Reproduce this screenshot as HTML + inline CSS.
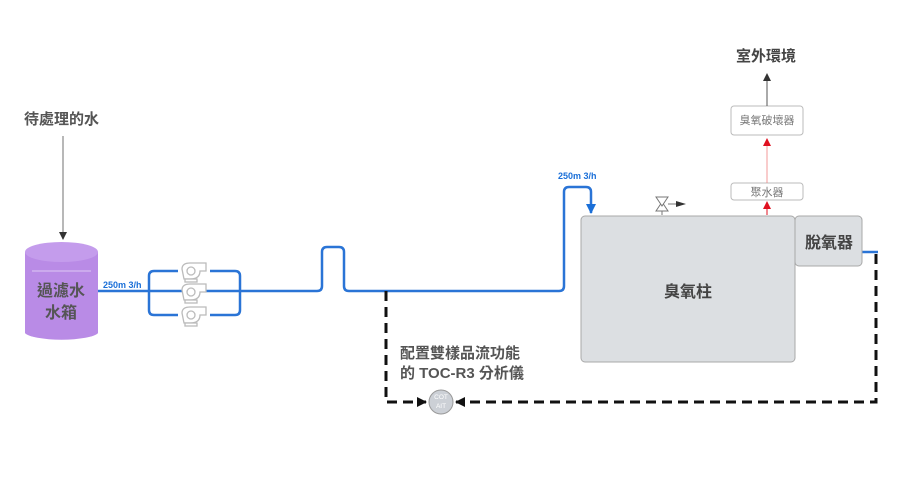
<!DOCTYPE html>
<html><head><meta charset="utf-8"><style>
html,body{margin:0;padding:0;background:#fff;}
svg{display:block;}
text{font-family:"Liberation Sans","Noto Sans CJK TC",sans-serif;}
</style></head><body>
<svg width="900" height="478" viewBox="0 0 900 478" xmlns="http://www.w3.org/2000/svg">
<defs>
<marker id="ab" markerWidth="8" markerHeight="8" refX="7" refY="4" orient="auto" markerUnits="userSpaceOnUse"><path d="M0,0 L8,4 L0,8 z" fill="#333"/></marker>
<marker id="ar" markerWidth="8" markerHeight="8" refX="7" refY="4" orient="auto" markerUnits="userSpaceOnUse"><path d="M0,0 L8,4 L0,8 z" fill="#e01020"/></marker>
<marker id="abl" markerWidth="10" markerHeight="10" refX="9" refY="5" orient="auto" markerUnits="userSpaceOnUse"><path d="M0,0 L10,5 L0,10 z" fill="#1a6fd8"/></marker>
<marker id="ak" markerWidth="10" markerHeight="10" refX="9" refY="5" orient="auto" markerUnits="userSpaceOnUse"><path d="M0,0 L10,5 L0,10 z" fill="#111"/></marker>
</defs>

<text x="24" y="124" font-size="15" font-weight="bold" fill="#555">待處理的水</text>
<line x1="63" y1="136" x2="63" y2="239" stroke="#888" stroke-width="1.2" marker-end="url(#ab)"/>

<path d="M25,252 L25,333 A37,8 0 0 0 98,333 L98,252 Z" fill="#b98be6"/>
<ellipse cx="61.5" cy="252" rx="36.5" ry="10" fill="#c49cec"/>
<line x1="32" y1="271" x2="91" y2="271" stroke="#ddc8f4" stroke-width="1"/>
<text x="61" y="296" font-size="16" font-weight="bold" fill="#555" text-anchor="middle">過濾水</text>
<text x="61" y="318" font-size="16" font-weight="bold" fill="#555" text-anchor="middle">水箱</text>

<g fill="none" stroke="#2a74d6" stroke-width="2.5">
<line x1="98" y1="291" x2="150" y2="291"/>
<path d="M178,271 L154,271 Q149,271 149,276 L149,310 Q149,315 154,315 L178,315"/>
<path d="M210,271 L235,271 Q240,271 240,276 L240,310 Q240,315 235,315 L210,315"/>
<line x1="149" y1="291" x2="240" y2="291"/>
<path d="M240,291 L317,291 Q322,291 322,286 L322,252 Q322,247 327,247 L339,247 Q344,247 344,252 L344,286 Q344,291 349,291 L559,291 Q564,291 564,286 L564,192 Q564,187 569,187 L586,187 Q591,187 591,192 L591,213" marker-end="url(#abl)"/>
<line x1="862" y1="252" x2="878" y2="252"/>
</g>
<text x="103" y="288" font-size="9" font-weight="bold" fill="#1a6fd8">250m 3/h</text>
<text x="558" y="179" font-size="9" font-weight="bold" fill="#1a6fd8">250m 3/h</text>

<g fill="#fff" stroke="#bbb" stroke-width="1.3">
<g transform="translate(180,263)"><path d="M2,6 Q2,0 10,0 L26,0 L26,8 L20,8 Q20,16 10,16 L4,16 Z"/><circle cx="11" cy="8" r="4"/><rect x="5" y="16" width="12" height="3"/></g>
<g transform="translate(180,284)"><path d="M2,6 Q2,0 10,0 L26,0 L26,8 L20,8 Q20,16 10,16 L4,16 Z"/><circle cx="11" cy="8" r="4"/><rect x="5" y="16" width="12" height="3"/></g>
<g transform="translate(180,307)"><path d="M2,6 Q2,0 10,0 L26,0 L26,8 L20,8 Q20,16 10,16 L4,16 Z"/><circle cx="11" cy="8" r="4"/><rect x="5" y="16" width="12" height="3"/></g>
</g>

<rect x="581" y="216" width="214" height="146" rx="4" fill="#dcdfe2" stroke="#a8a8a8" stroke-width="1"/>
<text x="688" y="297" font-size="16" font-weight="bold" fill="#444" text-anchor="middle">臭氧柱</text>
<rect x="795" y="216" width="67" height="50" rx="4" fill="#dcdfe2" stroke="#a8a8a8" stroke-width="1"/>
<text x="829" y="248" font-size="16" font-weight="bold" fill="#444" text-anchor="middle">脫氧器</text>

<g stroke="#777" fill="#fff" stroke-width="1">
<path d="M662,215 L662,211 M656,211 L668,211 L662,202 Z"/>
<path d="M656,197 L668,197 L662,206 Z"/>
<line x1="668" y1="204" x2="676" y2="204"/>
</g>
<path d="M676,201 L686,204 L676,207 Z" fill="#333"/>

<line x1="767" y1="215" x2="767" y2="202" stroke="#e01020" stroke-width="1" marker-end="url(#ar)"/>
<rect x="731" y="183" width="72" height="17" rx="3" fill="#fff" stroke="#bbb"/>
<text x="767" y="196" font-size="11" fill="#777" text-anchor="middle">聚水器</text>
<line x1="767" y1="183" x2="767" y2="139" stroke="#f08080" stroke-width="0.8" marker-end="url(#ar)"/>
<rect x="731" y="106" width="72" height="29" rx="3" fill="#fff" stroke="#bbb"/>
<text x="767" y="124" font-size="11" fill="#777" text-anchor="middle">臭氧破壞器</text>
<line x1="767" y1="106" x2="767" y2="74" stroke="#555" stroke-width="1" marker-end="url(#ab)"/>
<text x="766" y="61" font-size="15" font-weight="bold" fill="#444" text-anchor="middle">室外環境</text>

<g fill="none" stroke="#111" stroke-width="3" stroke-dasharray="10,6">
<path d="M876,254 L876,402 L456,402" marker-end="url(#ak)"/>
<path d="M386,291 L386,402 L426,402" marker-end="url(#ak)"/>
</g>
<circle cx="441" cy="402" r="12" fill="#ccd0d6" stroke="#999" stroke-width="1"/>
<text x="441" y="399" font-size="6.5" fill="#fff" text-anchor="middle">COT</text>
<text x="441" y="408" font-size="6.5" fill="#fff" text-anchor="middle">AIT</text>

<text x="400" y="358" font-size="15" font-weight="bold" fill="#555">配置雙樣品流功能</text>
<text x="400" y="378" font-size="15" font-weight="bold" fill="#555">的 TOC-R3 分析儀</text>
</svg>
</body></html>
